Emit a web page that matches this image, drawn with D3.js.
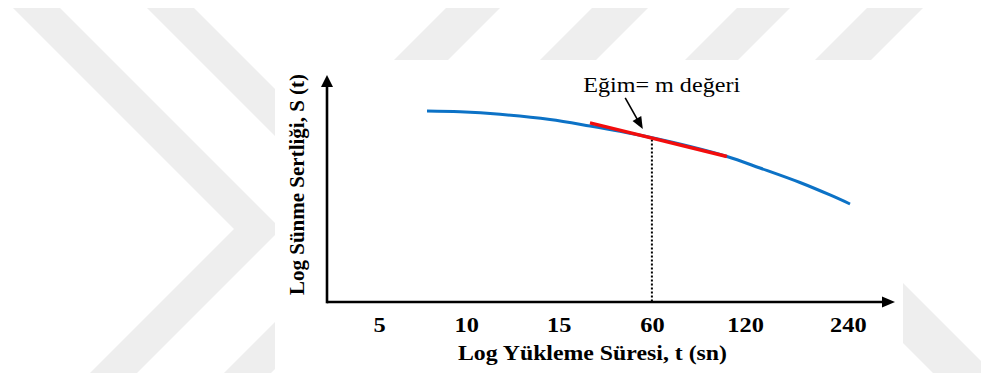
<!DOCTYPE html>
<html><head><meta charset="utf-8">
<script src="https://cdn.jsdelivr.net/npm/d3@7"></script>
<style>html,body{margin:0;padding:0;background:#fff;overflow:hidden}</style>
</head><body>
<svg id="chart" width="981" height="381"></svg>
<script>
// ---- data (abstract axis units 0..100 on both axes) ----
const xCategories = ["5", "10", "15", "60", "120", "240"];
const xTickPositions = [9.15, 24.5, 40.8, 57.2, 73.6, 91.7];
const curveX = [17.61, 23.42, 30.46, 39.26, 46.30, 51.58, 57.04, 63.91, 70.42, 76.23, 83.27, 88.56, 92.08];
const curveY = [84.14, 83.79, 82.69, 80.40, 77.53, 75.20, 72.47, 68.50, 64.10, 59.03, 52.64, 47.14, 43.17];
const tangentX = [46.3, 70.4];
const tangentY = [78.9, 64.1];
const markX = 57.2;
const markY = 71.6;
const arrowFrom = [52.5, 89.9];
const arrowTo = [55.6, 76.2];
const annotationPos = [45.1, 92.5];
const annotationText = "Eğim= m değeri";
const xTitle = "Log Yükleme Süresi, t (sn)";
const yTitle = "Log Sünme Sertliği, S (t)";

// ---- layout ----
const W = 981, H = 381;
const svg = d3.select("#chart");
const FONT = '"Liberation Serif"';
const stretch = 1.16;

// watermark background (decoration)
const wm = "#eeeeee";
const wmPolys = [
  [[13,8],[60,8],[281,229],[137,373],[90,373],[234,229]],
  [[147,8],[194,8],[415,229],[271,373],[224,373],[368,229]],
  [[446,8],[500,8],[448,60],[394,60]],
  [[592,8],[648,8],[596,60],[540,60]],
  [[737,8],[790,8],[738,60],[685,60]],
  [[867,8],[923,8],[871,60],[815,60]],
  [[793,233],[853,233],[993,373],[933,373]]
];
const wg = svg.append("g");
wg.append("clipPath").attr("id","wmclip").append("rect").attr("x",0).attr("y",8).attr("width",W).attr("height",365);
wg.selectAll("path").data(wmPolys).join("path")
  .attr("clip-path","url(#wmclip)")
  .attr("d", d => "M" + d.map(p => p.join(",")).join("L") + "Z")
  .attr("fill", wm);
svg.append("rect").attr("x",275).attr("y",60).attr("width",628).attr("height",313).attr("fill","#fff");

// ---- scales ----
const x = d3.scaleLinear().domain([0, 100]).range([327, 895]);
const y = d3.scaleLinear().domain([0, 100]).range([302, 75]);

function head(tip, from, len, hw) {
  const dx = tip[0]-from[0], dy = tip[1]-from[1];
  const L = Math.hypot(dx, dy), ux = dx/L, uy = dy/L;
  const bx = tip[0]-ux*len, by = tip[1]-uy*len;
  return `M${tip[0]},${tip[1]}L${bx-uy*hw},${by+ux*hw}L${bx+uy*hw},${by-ux*hw}Z`;
}

// dotted marker line
svg.append("line")
  .attr("x1", x(markX)).attr("x2", x(markX))
  .attr("y1", y(markY)).attr("y2", y(0))
  .attr("stroke", "#000").attr("stroke-width", 2).attr("stroke-dasharray", "2,2");

// axes lines with arrow heads
const ax = svg.append("g");
ax.append("line").attr("x1", x(0)).attr("y1", y(0)).attr("x2", x(100)-10).attr("y2", y(0))
  .attr("stroke","#000").attr("stroke-width",2.6);
ax.append("line").attr("x1", x(0)).attr("y1", y(0)+1.3).attr("x2", x(0)).attr("y2", y(100)+8)
  .attr("stroke","#000").attr("stroke-width",2.6);
ax.append("path").attr("d", head([x(100), y(0)], [x(0), y(0)], 13, 5.5)).attr("fill","#000");
ax.append("path").attr("d", head([x(0), y(100)], [x(0), y(0)], 12, 6)).attr("fill","#000");

// tick labels via d3 axis
const xAxis = d3.axisBottom(x).tickValues(xTickPositions)
  .tickFormat((d, i) => xCategories[i]).tickSize(0);
const gx = svg.append("g").attr("transform", `translate(0,${y(0)})`).call(xAxis);
gx.select(".domain").remove();
gx.selectAll("text")
  .attr("y", 30).attr("dy", null)
  .attr("transform", `scale(${stretch},1)`)
  .attr("fill", "#000")
  .style("font-family", FONT).style("font-size", "21px").style("font-weight", "bold");

// blue curve
const pts = curveX.map((v, i) => [v, curveY[i]]);
svg.append("path").datum(pts)
  .attr("d", d3.line().x(d => x(d[0])).y(d => y(d[1])).curve(d3.curveCatmullRom))
  .attr("fill", "none").attr("stroke", "#0c72c6").attr("stroke-width", 3);

// red tangent
const tpts = tangentX.map((v, i) => [v, tangentY[i]]);
svg.append("path").datum(tpts)
  .attr("d", d3.line().x(d => x(d[0])).y(d => y(d[1])))
  .attr("fill", "none").attr("stroke", "#f20d0d").attr("stroke-width", 3.5);

// annotation arrow
const aFrom = [x(arrowFrom[0]), y(arrowFrom[1])], aTo = [x(arrowTo[0]), y(arrowTo[1])];
{
  const dx = aTo[0]-aFrom[0], dy = aTo[1]-aFrom[1], L = Math.hypot(dx, dy);
  svg.append("line").attr("x1", aFrom[0]).attr("y1", aFrom[1])
    .attr("x2", aTo[0]-dx/L*10).attr("y2", aTo[1]-dy/L*10)
    .attr("stroke","#000").attr("stroke-width",1.6);
  svg.append("path").attr("d", head(aTo, aFrom, 12, 5)).attr("fill","#000");
}

// annotation text
svg.append("text")
  .attr("x", x(annotationPos[0])).attr("y", y(annotationPos[1]))
  .attr("textLength", 157).attr("lengthAdjust", "spacingAndGlyphs")
  .style("font-family", FONT).style("font-size", "21px").attr("fill", "#000")
  .text(annotationText);

// axis titles
svg.append("text")
  .attr("x", 458).attr("y", 360)
  .attr("textLength", 269).attr("lengthAdjust", "spacingAndGlyphs")
  .style("font-family", FONT).style("font-size", "21px").style("font-weight", "bold")
  .attr("fill", "#000").text(xTitle);
svg.append("text")
  .attr("transform", "translate(304,184.5) rotate(-90)")
  .attr("text-anchor", "middle")
  .style("font-family", FONT).style("font-size", "21px").style("font-weight", "bold")
  .attr("fill", "#000").text(yTitle);
</script>
</body></html>
